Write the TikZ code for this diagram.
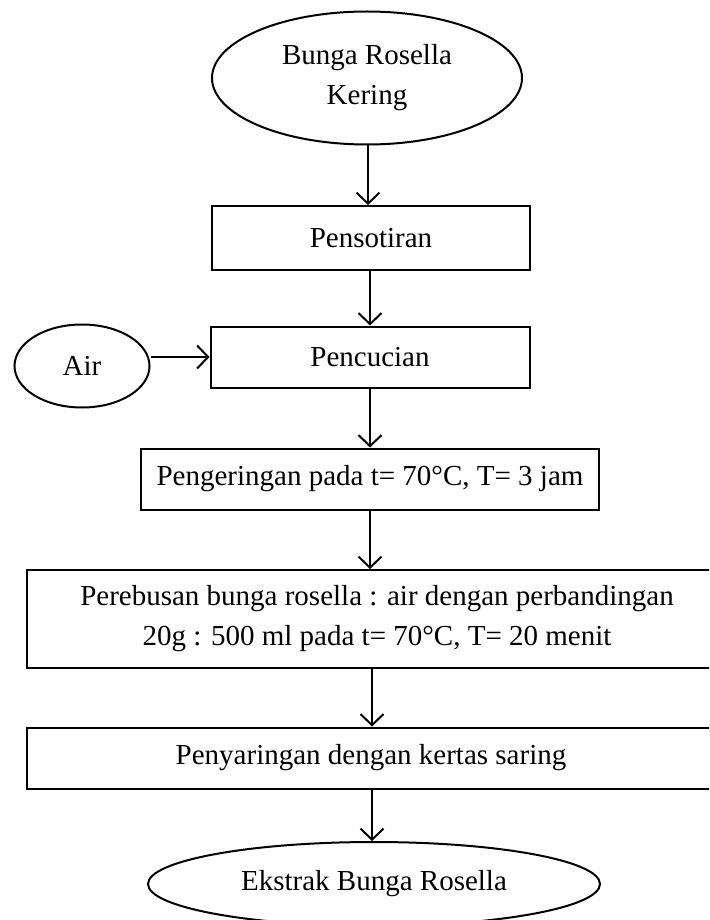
\documentclass[tikz,border=0pt]{standalone}
\usepackage{fontspec}
\setmainfont{Liberation Serif}
\usetikzlibrary{shapes.geometric,arrows.meta}
\begin{document}
\begin{tikzpicture}[x=1pt,y=-1pt,
  every node/.style={font=\fontsize{29}{40}\selectfont, inner sep=0pt, align=center},
  procbox/.style={draw, rectangle, line width=2pt},
  ovalnode/.style={draw, ellipse, line width=2pt},
  flow/.style={line width=2pt, -{Straight Barb[length=11pt,width=23pt,line width=2pt]}}]
\useasboundingbox (0,0) rectangle (709,920);
\clip (0,0) rectangle (709,920);
\node[ovalnode, minimum width=310pt, minimum height=133pt] (start) at (367,78) {Bunga Rosella\\Kering};
\node[procbox, minimum width=318pt, minimum height=64pt] (sort) at (371,238) {Pensotiran};
\node[procbox, minimum width=319pt, minimum height=61pt] (wash) at (370,357) {Pencucian};
\node[ovalnode, minimum width=135pt, minimum height=83pt] (air) at (82,366) {Air};
\node[procbox, minimum width=458pt, minimum height=61pt] (dry) at (370,479) {Pengeringan pada t= 70°C, T= 3 jam};
\node[procbox, minimum width=700pt, minimum height=98pt] (boil) at (377,619) {Perebusan bunga rosella : air dengan perbandingan\\20g : 500 ml pada t= 70°C, T= 20 menit};
\node[procbox, minimum width=700pt, minimum height=61pt] (filt) at (377,758) {};
\node at (371,758) {Penyaringan dengan kertas saring};
\node[ovalnode, minimum width=452pt, minimum height=84pt] (end) at (374,884) {Ekstrak Bunga Rosella};
\coordinate (c1) at (368,0);
\coordinate (c2) at (370,0);
\coordinate (c3) at (372,0);
\draw[flow] (start.south -| c1) -- (sort.north -| c1);
\draw[flow] (sort.south -| c2) -- (wash.north -| c2);
\draw[flow] (wash.south -| c2) -- (dry.north -| c2);
\draw[flow] (dry.south -| c2) -- (boil.north -| c2);
\draw[flow] (boil.south -| c3) -- (filt.north -| c3);
\draw[flow] (filt.south -| c3) -- (end.north -| c3);
\draw[flow] (wash.west -| air.east) -- (wash.west);
\end{tikzpicture}
\end{document}
